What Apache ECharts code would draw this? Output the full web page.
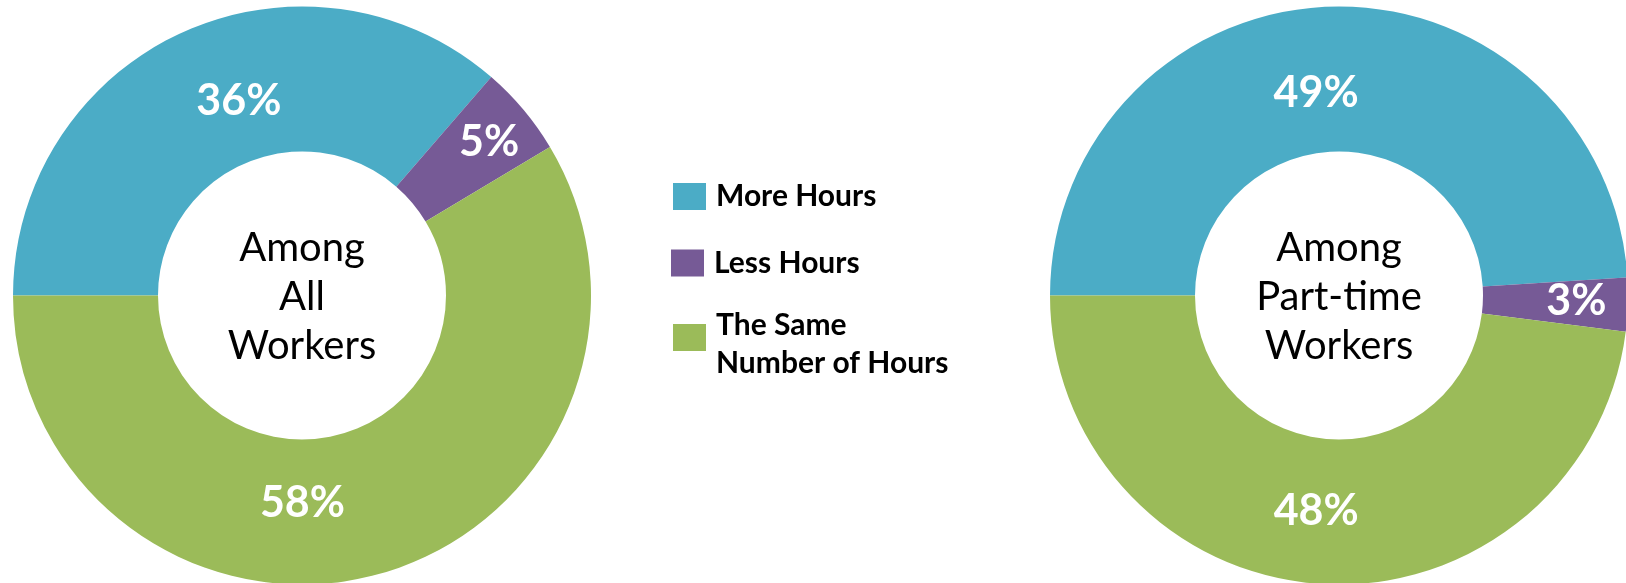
<!DOCTYPE html>
<html>
<head>
<meta charset="utf-8">
<script src="https://cdn.jsdelivr.net/npm/echarts@6/dist/echarts.min.js"></script>
<style>
html,body{margin:0;padding:0;background:#fff;}
#chart{width:1626px;height:583px;}
</style>
</head>
<body>
<div id="chart"></div>
<script>
// ---- data ----
const categories = ['More Hours', 'Less Hours', 'The Same Number of Hours'];
const allWorkers = [36, 5, 58];
const partTimeWorkers = [49, 3, 48];
const chartTitles = ['Among\nAll\nWorkers', 'Among\nPart-time\nWorkers'];
const legendLabels = ['More Hours', 'Less Hours', 'The Same\nNumber of Hours'];

// ---- style ----
const colors = ['#4BACC6', '#765A96', '#9BBB59'];
const FONT = 'Lato, "Open Sans", sans-serif';
const centers = [[302, 295.5], [1339, 295.5]];
const labelOffsets = [
  [[28, 5], [19, -12], [-58, -4]],
  [[-16, 17], [18, -1], [-9, -3]]
];
const legendTops = [177.5, 244, 293];
const legendLefts = [673, 671, 673];
const legendSpacer = [0, 0, 13];

function buildSeries(values, idx) {
  return {
    type: 'pie',
    center: centers[idx],
    radius: [144, 289],
    startAngle: 180,
    clockwise: true,
    silent: true,
    avoidLabelOverlap: false,
    label: {
      show: true,
      position: 'inside',
      formatter: '{c}%',
      color: '#fff',
      fontSize: 43,
      fontWeight: 'bold',
      fontFamily: FONT
    },
    labelLine: { show: false },
    itemStyle: { borderWidth: 0 },
    data: categories.map((c, i) => ({
      name: c,
      value: values[i],
      itemStyle: { color: colors[i] },
      label: { offset: labelOffsets[idx][i] }
    }))
  };
}

function legendText(i) {
  const lines = legendLabels[i].split('\n').map(l => '{t|' + l + '}');
  if (legendSpacer[i]) lines.unshift('{s| }');
  return lines.join('\n');
}

const chart = echarts.init(document.getElementById('chart'), null, { renderer: 'canvas' });
chart.setOption({
  animation: false,
  backgroundColor: '#fff',
  title: chartTitles.map((t, i) => ({
    text: t,
    left: centers[i][0],
    top: 297,
    padding: 0,
    textAlign: 'center',
    textVerticalAlign: 'middle',
    textStyle: {
      color: '#000',
      fontSize: 40,
      fontWeight: 'normal',
      fontFamily: FONT,
      lineHeight: 49
    }
  })),
  legend: categories.map((c, i) => ({
    data: [c],
    orient: 'vertical',
    left: legendLefts[i],
    top: legendTops[i],
    padding: 0,
    itemWidth: 33,
    itemHeight: 27,
    icon: 'rect',
    selectedMode: false,
    formatter: () => legendText(i),
    textStyle: {
      color: '#000',
      fontSize: 30,
      fontWeight: 'bold',
      fontFamily: FONT,
      lineHeight: 38,
      rich: {
        t: {
          color: '#000',
          fontSize: 30,
          fontWeight: 'bold',
          fontFamily: FONT,
          lineHeight: 38,
          padding: [0, 0, 0, 5]
        },
        s: {
          fontSize: 2,
          lineHeight: legendSpacer[i] || 1
        }
      }
    }
  })),
  series: [buildSeries(allWorkers, 0), buildSeries(partTimeWorkers, 1)]
});
</script>
</body>
</html>
